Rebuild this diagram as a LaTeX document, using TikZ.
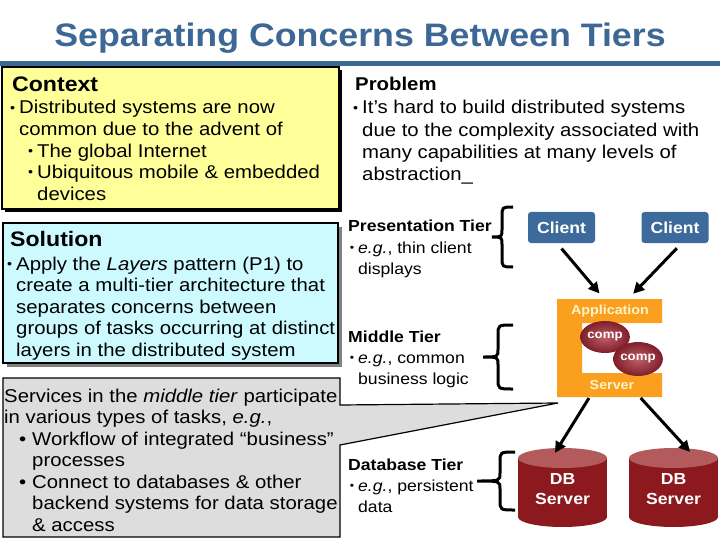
\documentclass[tikz,border=0pt]{standalone}
\usepackage{fontspec}
\setmainfont{Liberation Sans}[FakeStretch=1.1]
\usetikzlibrary{arrows.meta,shapes.geometric}

\definecolor{titleblue}{RGB}{61,104,150}
\definecolor{ctxyellow}{RGB}{255,255,153}
\definecolor{solcyan}{RGB}{204,250,255}
\definecolor{callgray}{RGB}{221,221,221}
\definecolor{clientblue}{RGB}{59,106,155}
\definecolor{apporange}{RGB}{250,160,30}
\definecolor{apptext}{RGB}{255,243,200}
\definecolor{dbred}{RGB}{140,25,30}
\definecolor{dbtop}{RGB}{178,90,92}
\definecolor{compin}{RGB}{190,95,105}
\definecolor{compout}{RGB}{125,30,42}

\newcommand{\lns}[1]{\begin{tabular}[t]{@{}l@{}}#1\end{tabular}}
\newcommand{\dotb}{\llap{\raisebox{0.2ex}{\scalebox{0.7}{\textbullet}}\hspace{4pt}}}
\newcommand{\bigb}{\llap{\textbullet\hspace{6pt}}}

\begin{document}
\begin{tikzpicture}[x=1pt,y=-1pt,
  txt/.style={anchor=base west, inner sep=0, font=\fontsize{18.5}{21.6}\selectfont},
  head/.style={anchor=base west, inner sep=0, font=\bfseries\fontsize{21}{25}\selectfont},
  tier/.style={anchor=base west, inner sep=0, font=\bfseries\fontsize{16}{20}\selectfont},
  tiertxt/.style={anchor=base west, inner sep=0, font=\fontsize{16}{21.5}\selectfont},
  client/.style={fill=clientblue, rounded corners=3pt, text=white, inner sep=0,
    font=\bfseries\fontsize{16}{19}\selectfont, minimum width=67pt, minimum height=31pt},
  apptxt/.style={text=apptext, inner sep=0, font=\bfseries\fontsize{13}{15}\selectfont},
  comp/.style={ellipse, inner color=compin, outer color=compout, text=white, inner sep=0,
    font=\bfseries\fontsize{12}{14}\selectfont},
  dbtxt/.style={align=center, text=white, inner sep=0, minimum width=89pt, minimum height=82pt,
    font=\bfseries\fontsize{16}{20}\selectfont},
  arr/.style={line width=3pt, -{Triangle[length=11pt,width=11pt]}},
]
\useasboundingbox[fill=white] (0,0) rectangle (720,540);

% title and rule
\node[anchor=base, text=titleblue, font=\bfseries\fontsize{32.5}{38}\selectfont] (title) at (360,47)
  {Separating Concerns Between Tiers};
\fill[titleblue] (0,61) rectangle (720,66);

% left column boxes
\fill[black] (5,70) rectangle (342,212);
\draw[line width=1.5pt, fill=ctxyellow] (2,67) rectangle (339,209);
\fill[gray] (7,227) rectangle (342,367);
\draw[line width=1.5pt, fill=solcyan] (3,223) rectangle (338,363);
\draw[line width=1.2pt, fill=callgray] (3,378) -- (340,378) -- (340,405) -- (558,403)
  -- (340,445) -- (340,537) -- (3,537) -- cycle;

\node[head] (ctxhead) at (12,92) {Context};
\node[txt] (ctxtxt) at (19,114) {\lns{\dotb Distributed systems are now\\common due to the advent of\\
  \hspace*{18pt}\dotb The global Internet\\\hspace*{18pt}\dotb Ubiquitous mobile \& embedded\\
  \hspace*{18pt}devices}};

\node[head, font=\bfseries\fontsize{18.5}{22}\selectfont] (probhead) at (355,91) {Problem};
\node[txt, font=\fontsize{18.5}{22.3}\selectfont] (probtxt) at (362,114)
  {\lns{\dotb It’s hard to build distributed systems\\due to the complexity associated with\\
  many capabilities at many levels of\\abstraction\_}};

\node[head] (solhead) at (10,247) {Solution};
\node[txt, font=\fontsize{18.5}{21.5}\selectfont] (soltxt) at (16,270)
  {\lns{\dotb Apply the \textit{Layers} pattern (P1) to\\create a multi-tier architecture that\\
  separates concerns between\\groups of tasks occurring at distinct\\layers in the distributed system}};

\node[txt, font=\fontsize{18.5}{21.5}\selectfont] (calltxt) at (4,402)
  {\lns{Services in the \textit{middle tier} participate\\in various types of tasks, \textit{e.g.},\\
  \hspace*{28pt}\bigb Workflow of integrated “business”\\\hspace*{28pt}processes\\
  \hspace*{28pt}\bigb Connect to databases \& other\\\hspace*{28pt}backend systems for data storage\\
  \hspace*{28pt}\& access}};

% tiers
\node[tier] (prehead) at (348,232) {Presentation Tier};
\node[tiertxt] (pretxt) at (358,253) {\lns{\dotb\textit{e.g.}, thin client\\displays}};
\node[tier] (midhead) at (348,342) {Middle Tier};
\node[tiertxt] (midtxt) at (358,363) {\lns{\dotb\textit{e.g.}, common\\business logic}};
\node[tier] (dbhead) at (348,470) {Database Tier};
\node[tiertxt] (dbtxt) at (358,491) {\lns{\dotb\textit{e.g.}, persistent\\data}};

\foreach \e/\b/\t/\ya/\yb in {513/502/492/207/267, 513/498/483/325/389, 515/500/477/452/510}
  \draw[line width=3pt] (\e,\ya) .. controls (\b,\ya) .. (\b,\ya+10) -- (\b,{(\ya+\yb)/2-8})
    .. controls (\b,{(\ya+\yb)/2}) .. (\t,{(\ya+\yb)/2}) .. controls (\b,{(\ya+\yb)/2}) .. (\b,{(\ya+\yb)/2+8})
    -- (\b,\yb-10) .. controls (\b,\yb) .. (\e,\yb);

% clients
\node[client] (cl1) at (561.5,227.5) {Client};
\node[client] (cl2) at (675,227.5) {Client};

% application server
\fill[apporange] (557,299) -- (662,299) -- (662,323) -- (582,323) -- (582,373) -- (662,373)
  -- (662,397) -- (557,397) -- cycle;
\node[minimum width=105pt, minimum height=98pt, inner sep=0] (app) at (609.5,348) {};
\node[apptxt] (apptop) at (610,311) {Application};
\node[apptxt] (appbot) at (612,385) {Server};
\node[comp, minimum width=39pt, minimum height=32pt] (comp1) at (605,337) {comp};
\node[comp, minimum width=41pt, minimum height=34pt] (comp2) at (638,359) {comp};

% databases
\foreach \cx in {562.5,673.5} {
  \fill[dbred] (\cx-44.5,458) rectangle (\cx+44.5,517);
  \fill[dbred] (\cx,517) ellipse [x radius=44.5, y radius=10];
  \fill[dbtop] (\cx,458) ellipse [x radius=44.5, y radius=10];
}
\node[dbtxt] (db1) at (562.5,489) {DB\\Server};
\node[dbtxt] (db2) at (673.5,489) {DB\\Server};

% arrows
\draw[arr, shorten <=7pt, shorten >=7pt] ([xshift=-4.5pt]cl1.south) -- ([xshift=-5.5pt]app.north);
\draw[arr, shorten <=7pt, shorten >=7pt] ([xshift=6.7pt]cl2.south) -- ([xshift=18.8pt]app.north);
\draw[arr, shorten <=1pt] ([xshift=-20pt]app.south) -- ([xshift=-7.5pt,yshift=-5pt]db1.north);
\draw[arr, shorten <=1pt] ([xshift=30.5pt]app.south) -- ([xshift=16.5pt,yshift=-4pt]db2.north);
\end{tikzpicture}
\end{document}
